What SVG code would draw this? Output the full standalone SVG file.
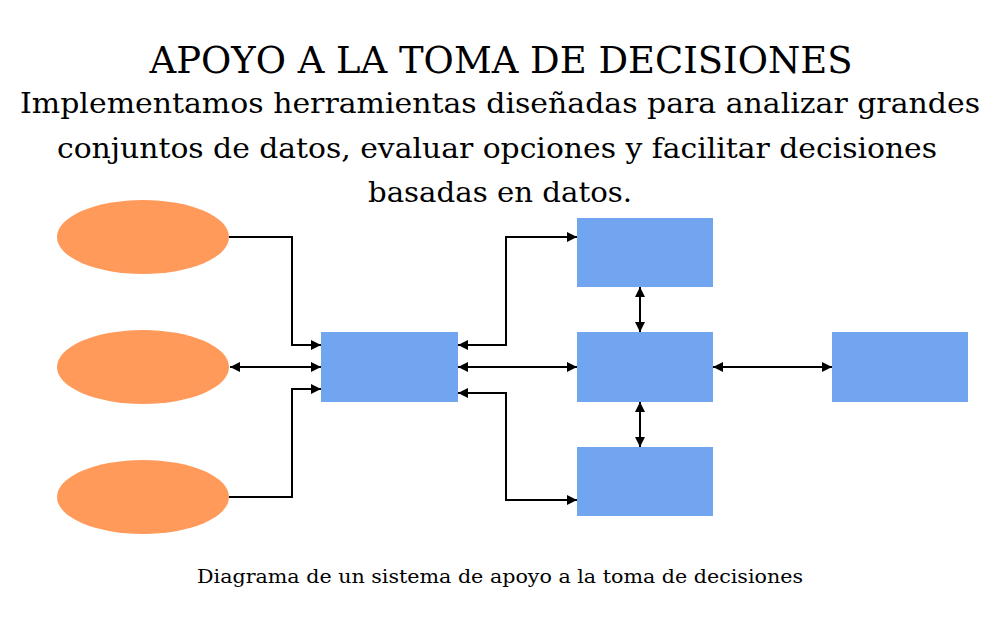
<svg xmlns="http://www.w3.org/2000/svg" width="1000" height="619" viewBox="0 0 1000 619">
<style>
.t{font-family:"DejaVu Serif","Liberation Serif",serif;fill:#000;text-anchor:middle}
.e{fill:#ff9a5a}
.b{fill:#72a5f0}
.c{fill:none;stroke:#000;stroke-width:2}
</style>
<defs>
<marker id="a" viewBox="0 0 10 10" refX="10" refY="5" markerWidth="5" markerHeight="5" orient="auto-start-reverse"><path d="M0,0L10,5L0,10z" fill="#000"/></marker>
</defs>
<rect width="1000" height="619" fill="#fff"/>
<text class="t" x="501" y="73" font-size="38" textLength="703" lengthAdjust="spacingAndGlyphs">APOYO A LA TOMA DE DECISIONES</text>
<text class="t" x="500" y="113" font-size="28" textLength="960" lengthAdjust="spacingAndGlyphs">Implementamos herramientas diseñadas para analizar grandes</text>
<text class="t" x="497" y="158" font-size="28" textLength="880" lengthAdjust="spacingAndGlyphs">conjuntos de datos, evaluar opciones y facilitar decisiones</text>
<text class="t" x="500" y="202" font-size="28" textLength="264" lengthAdjust="spacingAndGlyphs">basadas en datos.</text>
<text class="t" x="500" y="583" font-size="18" textLength="606" lengthAdjust="spacingAndGlyphs">Diagrama de un sistema de apoyo a la toma de decisiones</text>
<g id="e1"><ellipse class="e" cx="143" cy="237" rx="86" ry="37"/></g>
<g id="e2"><ellipse class="e" cx="143" cy="367" rx="86" ry="37"/></g>
<g id="e3"><ellipse class="e" cx="143" cy="497" rx="86" ry="37"/></g>
<g id="center"><rect class="b" x="321" y="332" width="137" height="70"/></g>
<g id="top"><rect class="b" x="577" y="218" width="136" height="69"/></g>
<g id="mid"><rect class="b" x="577" y="332" width="136" height="70"/></g>
<g id="bot"><rect class="b" x="577" y="447" width="136" height="69"/></g>
<g id="right"><rect class="b" x="832" y="332" width="136" height="70"/></g>
<g id="connectors">
<path class="c" d="M229,237H292V345H321" marker-end="url(#a)"/>
<path class="c" d="M230,367H321" marker-start="url(#a)" marker-end="url(#a)"/>
<path class="c" d="M229,497H292V389H321" marker-end="url(#a)"/>
<path class="c" d="M458,345H506V237H577" marker-start="url(#a)" marker-end="url(#a)"/>
<path class="c" d="M458,367H577" marker-start="url(#a)" marker-end="url(#a)"/>
<path class="c" d="M458,393H506V500H577" marker-start="url(#a)" marker-end="url(#a)"/>
<path class="c" d="M640,287V332" marker-start="url(#a)" marker-end="url(#a)"/>
<path class="c" d="M640,402V447" marker-start="url(#a)" marker-end="url(#a)"/>
<path class="c" d="M713,367H832" marker-start="url(#a)" marker-end="url(#a)"/>
</g>
</svg>
